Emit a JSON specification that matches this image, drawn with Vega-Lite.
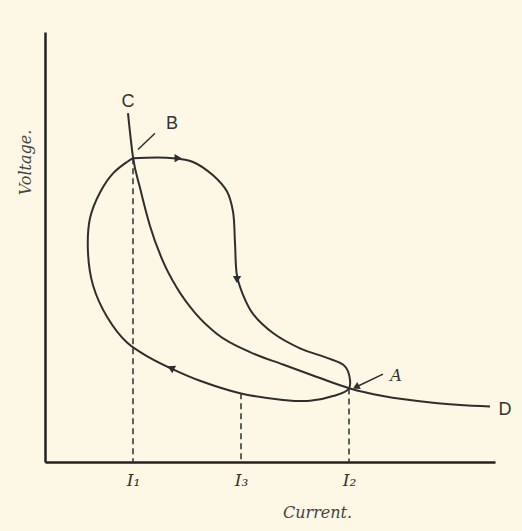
{
  "$schema": "https://vega.github.io/schema/vega-lite/v6.json",
  "autosize": "none",
  "width": 450,
  "height": 430,
  "padding": {"left": 45, "top": 32, "right": 27, "bottom": 69},
  "background": "#fcf8e5",
  "config": {"view": {"stroke": null}},
  "datasets": {
    "cd": [
      {"i": 83, "v": 365, "o": 1}, {"i": 88, "v": 319, "o": 2}, {"i": 95, "v": 287, "o": 3},
      {"i": 105, "v": 247, "o": 4}, {"i": 118, "v": 210, "o": 5}, {"i": 132, "v": 182, "o": 6},
      {"i": 150, "v": 156, "o": 7}, {"i": 172, "v": 134, "o": 8}, {"i": 205, "v": 115, "o": 9},
      {"i": 238, "v": 102, "o": 10}, {"i": 272, "v": 89, "o": 11}, {"i": 305, "v": 77, "o": 12},
      {"i": 338, "v": 69, "o": 13}, {"i": 388, "v": 62, "o": 14}, {"i": 445, "v": 58, "o": 15}
    ],
    "loop": [
      {"i": 88, "v": 318, "o": 1}, {"i": 128, "v": 318, "o": 2}, {"i": 148, "v": 314, "o": 3},
      {"i": 168, "v": 300, "o": 4}, {"i": 182, "v": 283, "o": 5}, {"i": 188, "v": 262, "o": 6},
      {"i": 190, "v": 229, "o": 7}, {"i": 192, "v": 195, "o": 8}, {"i": 198, "v": 175, "o": 9},
      {"i": 208, "v": 155, "o": 10}, {"i": 228, "v": 135, "o": 11}, {"i": 255, "v": 119, "o": 12},
      {"i": 282, "v": 109, "o": 13}, {"i": 298, "v": 102, "o": 14}, {"i": 303, "v": 95, "o": 15},
      {"i": 304, "v": 77, "o": 16}, {"i": 288, "v": 69, "o": 17}, {"i": 265, "v": 64, "o": 18},
      {"i": 238, "v": 65, "o": 19}, {"i": 195, "v": 72, "o": 20}, {"i": 155, "v": 85, "o": 21},
      {"i": 128, "v": 97, "o": 22}, {"i": 105, "v": 109, "o": 23}, {"i": 82, "v": 125, "o": 24},
      {"i": 62, "v": 152, "o": 25}, {"i": 48, "v": 185, "o": 26}, {"i": 43, "v": 219, "o": 27},
      {"i": 45, "v": 255, "o": 28}, {"i": 55, "v": 282, "o": 29}, {"i": 68, "v": 302, "o": 30},
      {"i": 82, "v": 314, "o": 31}, {"i": 88, "v": 318, "o": 32}
    ],
    "drops": [
      {"i": 88, "v": 318}, {"i": 196, "v": 72}, {"i": 304, "v": 77}
    ],
    "leaders": [
      {"i": 93, "v": 327, "i2": 110, "v2": 344},
      {"i": 338, "v": 92, "i2": 310, "v2": 78}
    ],
    "arrows": [
      {"i": 132, "v": 318, "dir": "right"},
      {"i": 192, "v": 192, "dir": "down"},
      {"i": 127, "v": 98, "dir": "left"},
      {"i": 312, "v": 79, "dir": "downleft"}
    ],
    "letters": [
      {"i": 83, "v": 377, "t": "C"},
      {"i": 127, "v": 354, "t": "B"},
      {"i": 460, "v": 54, "t": "D"}
    ],
    "italic": [
      {"i": 351, "v": 90, "t": "A"}
    ]
  },
  "layer": [
    {
      "data": {"name": "drops"},
      "mark": {"type": "rule", "color": "#3a3a3a", "strokeWidth": 1.6, "strokeDash": [6, 4]},
      "encoding": {
        "x": {"field": "i", "type": "quantitative", "scale": {"domain": [0, 450]},
          "axis": {"title": "Current.", "titleFont": "DejaVu Serif", "titleFontStyle": "italic", "titleFontWeight": "normal", "titleFontSize": 16, "titleColor": "#444",
            "titleX": 272, "titleY": 42, "titleAnchor": null, "titleAlign": "center",
            "values": [88, 196, 304], "labelExpr": "datum.value == 88 ? 'I₁' : datum.value == 196 ? 'I₃' : 'I₂'",
            "labelFont": "DejaVu Serif", "labelFontStyle": "italic", "labelFontSize": 17, "labelColor": "#333", "labelPadding": 10,
            "ticks": false, "grid": false, "domainColor": "#222", "domainWidth": 2.5}},
        "y": {"field": "v", "type": "quantitative", "scale": {"domain": [0, 430]},
          "axis": {"title": "Voltage.", "titleFont": "DejaVu Serif", "titleFontStyle": "italic", "titleFontWeight": "normal", "titleFontSize": 16, "titleColor": "#444",
            "titleX": -20, "titleY": 130, "titleAngle": -90, "titleAlign": "center", "titleBaseline": "middle",
            "labels": false, "ticks": false, "grid": false, "domainColor": "#222", "domainWidth": 2.5}},
        "y2": {"datum": 0}
      }
    },
    {
      "data": {"name": "cd"},
      "mark": {"type": "line", "color": "#2e2e2e", "strokeWidth": 2, "interpolate": "monotone"},
      "encoding": {
        "x": {"field": "i", "type": "quantitative"},
        "y": {"field": "v", "type": "quantitative"},
        "order": {"field": "o"}
      }
    },
    {
      "data": {"name": "loop"},
      "mark": {"type": "line", "color": "#2e2e2e", "strokeWidth": 2, "interpolate": "catmull-rom"},
      "encoding": {
        "x": {"field": "i", "type": "quantitative"},
        "y": {"field": "v", "type": "quantitative"},
        "order": {"field": "o"}
      }
    },
    {
      "data": {"name": "leaders"},
      "mark": {"type": "rule", "color": "#2e2e2e", "strokeWidth": 1.5},
      "encoding": {
        "x": {"field": "i", "type": "quantitative"},
        "y": {"field": "v", "type": "quantitative"},
        "x2": {"field": "i2"},
        "y2": {"field": "v2"}
      }
    },
    {
      "data": {"name": "arrows"},
      "transform": [{"filter": "datum.dir == 'right'"}],
      "mark": {"type": "point", "shape": "triangle", "angle": 90, "filled": true, "color": "#2e2e2e", "size": 70, "opacity": 1},
      "encoding": {"x": {"field": "i", "type": "quantitative"}, "y": {"field": "v", "type": "quantitative"}}
    },
    {
      "data": {"name": "arrows"},
      "transform": [{"filter": "datum.dir == 'down'"}],
      "mark": {"type": "point", "shape": "triangle", "angle": 180, "filled": true, "color": "#2e2e2e", "size": 70, "opacity": 1},
      "encoding": {"x": {"field": "i", "type": "quantitative"}, "y": {"field": "v", "type": "quantitative"}}
    },
    {
      "data": {"name": "arrows"},
      "transform": [{"filter": "datum.dir == 'left'"}],
      "mark": {"type": "point", "shape": "triangle", "angle": 297, "filled": true, "color": "#2e2e2e", "size": 70, "opacity": 1},
      "encoding": {"x": {"field": "i", "type": "quantitative"}, "y": {"field": "v", "type": "quantitative"}}
    },
    {
      "data": {"name": "arrows"},
      "transform": [{"filter": "datum.dir == 'downleft'"}],
      "mark": {"type": "point", "shape": "triangle", "angle": 243, "filled": true, "color": "#2e2e2e", "size": 60, "opacity": 1},
      "encoding": {"x": {"field": "i", "type": "quantitative"}, "y": {"field": "v", "type": "quantitative"}}
    },
    {
      "data": {"name": "letters"},
      "mark": {"type": "text", "font": "Liberation Sans", "fontSize": 18, "color": "#333", "align": "center", "baseline": "middle"},
      "encoding": {"x": {"field": "i", "type": "quantitative"}, "y": {"field": "v", "type": "quantitative"}, "text": {"field": "t"}}
    },
    {
      "data": {"name": "italic"},
      "mark": {"type": "text", "font": "DejaVu Serif", "fontStyle": "italic", "fontSize": 16, "color": "#333", "align": "center", "baseline": "middle"},
      "encoding": {"x": {"field": "i", "type": "quantitative"}, "y": {"field": "v", "type": "quantitative"}, "text": {"field": "t"}}
    }
  ]
}
